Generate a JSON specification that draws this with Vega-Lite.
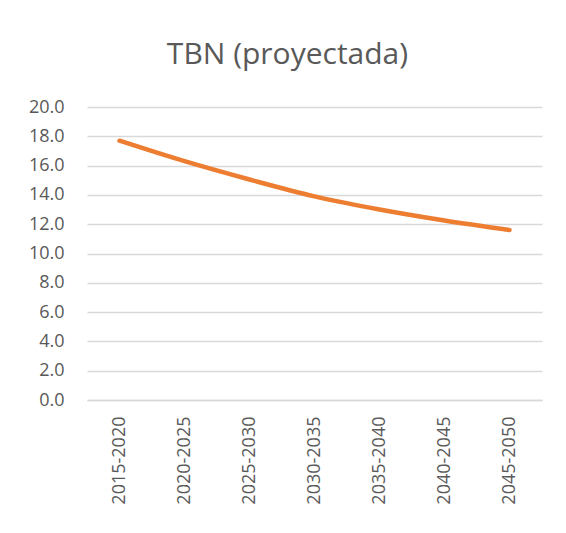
{
  "$schema": "https://vega.github.io/schema/vega-lite/v6.json",
  "autosize": "none",
  "width": 455,
  "height": 293,
  "padding": {"left": 87, "top": 107, "right": 24, "bottom": 133},
  "background": "white",
  "title": {
    "text": "TBN (proyectada)",
    "anchor": "middle",
    "dx": -27,
    "offset": 28,
    "font": "Open Sans",
    "fontSize": 30,
    "fontWeight": "normal",
    "color": "#595959"
  },
  "data": {
    "values": [
      {"periodo": "2015-2020", "tbn": 17.7},
      {"periodo": "2020-2025", "tbn": 16.3},
      {"periodo": "2025-2030", "tbn": 15.05},
      {"periodo": "2030-2035", "tbn": 13.9},
      {"periodo": "2035-2040", "tbn": 13.0},
      {"periodo": "2040-2045", "tbn": 12.25},
      {"periodo": "2045-2050", "tbn": 11.6}
    ]
  },
  "mark": {"type": "line", "color": "#ED7D31", "strokeWidth": 4.5, "interpolate": "monotone", "strokeCap": "round"},
  "encoding": {
    "x": {
      "field": "periodo",
      "type": "ordinal",
      "sort": null,
      "scale": {"type": "point", "padding": 0.5},
      "axis": {
        "title": null,
        "labelAngle": -90,
        "labelFont": "Open Sans",
        "labelFontSize": 18,
        "labelColor": "#595959",
        "labelPadding": 16,
        "ticks": false,
        "domain": true,
        "domainColor": "#d9d9d9",
        "domainWidth": 1.5,
        "grid": false
      }
    },
    "y": {
      "field": "tbn",
      "type": "quantitative",
      "scale": {"domain": [0, 20]},
      "axis": {
        "title": null,
        "values": [0, 2, 4, 6, 8, 10, 12, 14, 16, 18, 20],
        "format": ".1f",
        "labelFont": "Open Sans",
        "labelFontSize": 18,
        "labelColor": "#595959",
        "labelPadding": 23,
        "ticks": false,
        "domain": false,
        "grid": true,
        "gridColor": "#d9d9d9",
        "gridWidth": 1.5
      }
    }
  },
  "config": {"view": {"stroke": null}}
}
